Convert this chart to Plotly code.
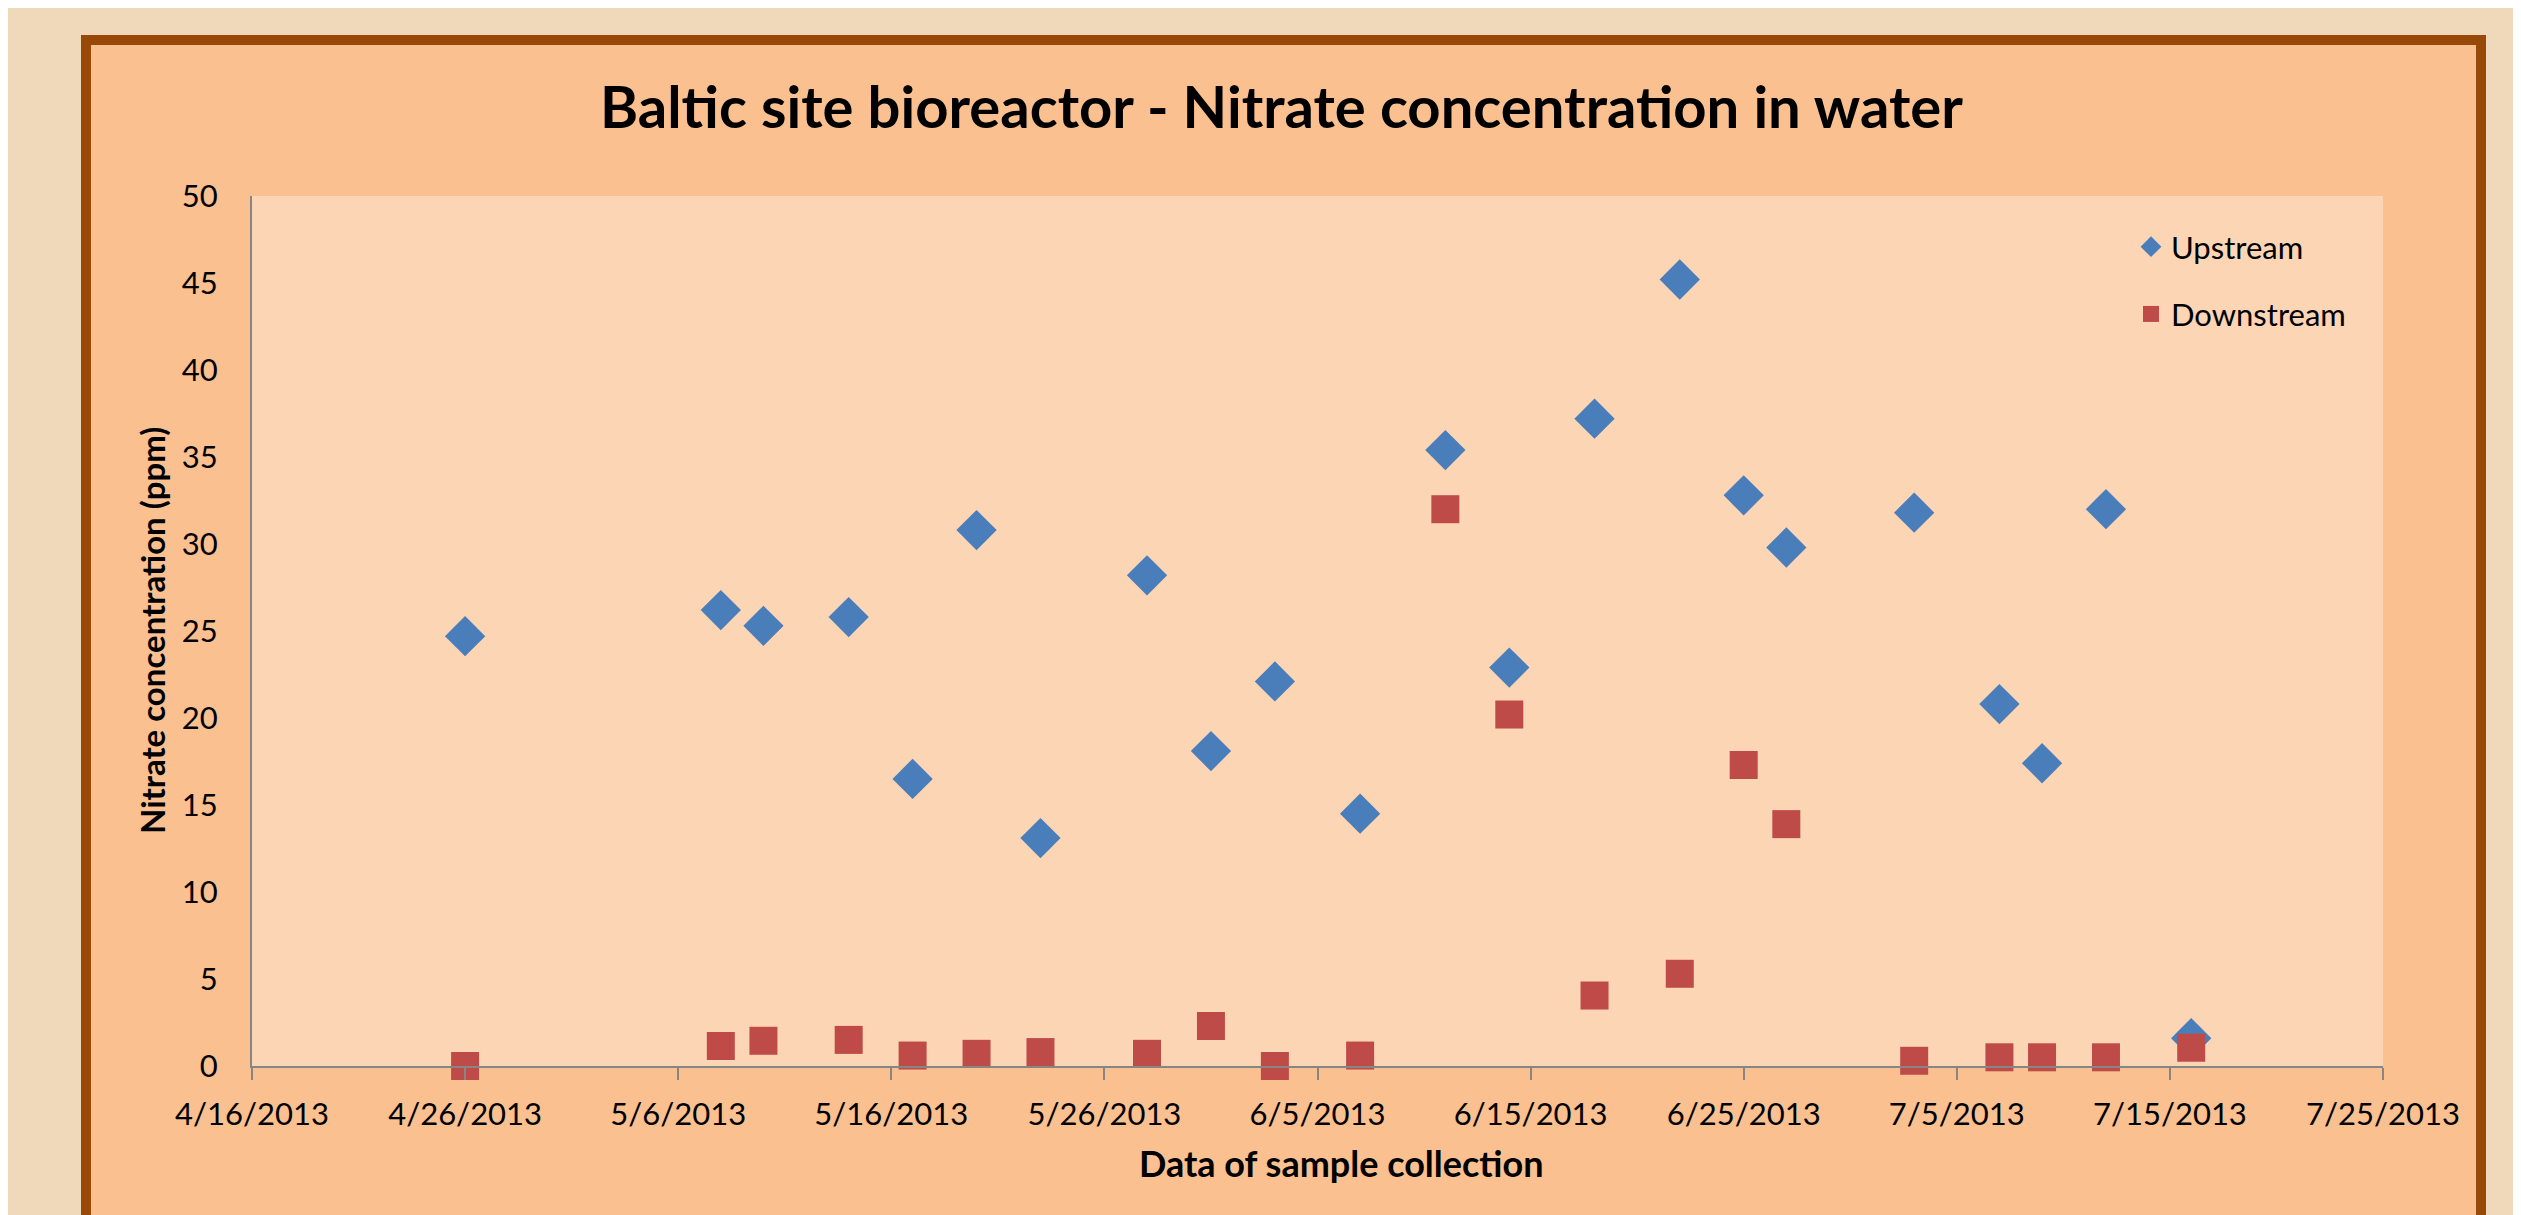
import plotly.graph_objects as go

# ---- data ----
dates = ["2013-04-26", "2013-05-08", "2013-05-10", "2013-05-14", "2013-05-17",
         "2013-05-20", "2013-05-23", "2013-05-28", "2013-05-31", "2013-06-03",
         "2013-06-07", "2013-06-11", "2013-06-14", "2013-06-18", "2013-06-22",
         "2013-06-25", "2013-06-27", "2013-07-03", "2013-07-07", "2013-07-09",
         "2013-07-12", "2013-07-16"]
upstream = [24.7, 26.2, 25.3, 25.8, 16.5, 30.8, 13.1, 28.2, 18.1, 22.1,
            14.5, 35.4, 22.9, 37.2, 45.2, 32.8, 29.8, 31.8, 20.8, 17.4,
            32.0, 1.6]
downstream = [0.0, 1.15, 1.45, 1.5, 0.6, 0.7, 0.8, 0.7, 2.3, 0.0,
              0.6, 32.0, 20.2, 4.05, 5.3, 17.3, 13.9, 0.3, 0.5, 0.5,
              0.5, 1.05]
tick_dates = ["2013-04-16", "2013-04-26", "2013-05-06", "2013-05-16", "2013-05-26",
              "2013-06-05", "2013-06-15", "2013-06-25", "2013-07-05", "2013-07-15",
              "2013-07-25"]
tick_labels = ["4/16/2013", "4/26/2013", "5/6/2013", "5/16/2013", "5/26/2013",
               "6/5/2013", "6/15/2013", "6/25/2013", "7/5/2013", "7/15/2013",
               "7/25/2013"]
y_ticks = [0, 5, 10, 15, 20, 25, 30, 35, 40, 45, 50]

# ---- layout geometry (page pixel coordinates; page body has an 8px margin) ----
PAGE_W, PAGE_H = 2521, 1215
OFF = 8
W, H = PAGE_W - OFF, PAGE_H - OFF
PL, PR, PT, PB = 252, 2383, 196, 1066          # plot area in page coords
L, R, T, B = PL - OFF, W - (PR - OFF), PT - OFF, H - (PB - OFF)
pw, ph = PR - PL, PB - PT

def px(x):
    return (x - PL) / pw

def py(y):
    return (PB - y) / ph

FONT = "Lato"

fig = go.Figure()
fig.add_trace(go.Scatter(
    x=dates, y=upstream, mode="markers", name="Upstream", legendgroup="u",
    marker=dict(symbol="diamond", size=31, color="#4A7EBB"),
    cliponaxis=False))
fig.add_trace(go.Scatter(
    x=dates, y=downstream, mode="markers", name="Downstream", legendgroup="d",
    marker=dict(symbol="square", size=28, color="#BE4B48"),
    cliponaxis=False))

shapes = [
    # chart frame
    dict(type="rect", xref="paper", yref="paper", layer="below",
         x0=px(86), x1=px(2481), y0=py(1260), y1=py(40),
         fillcolor="#FAC090", line=dict(color="#984807", width=10)),
    # plot area
    dict(type="rect", xref="paper", yref="paper", layer="below",
         x0=0, x1=1, y0=0, y1=1, fillcolor="#FCD5B5", line=dict(width=0)),
]

annotations = [
    dict(text="<b>Baltic site bioreactor - Nitrate concentration in water</b>",
         xref="paper", yref="paper", x=px(1281), y=py(105), showarrow=False,
         xanchor="center", yanchor="middle",
         font=dict(family=FONT, size=58, color="#000000")),
    dict(text="<b>Data of sample collection</b>",
         xref="paper", yref="paper", x=px(1341), y=py(1163), showarrow=False,
         xanchor="center", yanchor="middle",
         font=dict(family=FONT, size=36, color="#000000")),
    dict(text="<b>Nitrate concentration (ppm)</b>", textangle=-90,
         xref="paper", yref="paper", x=px(152), y=py(631), showarrow=False,
         xanchor="center", yanchor="middle",
         font=dict(family=FONT, size=33, color="#000000")),
]

fig.update_layout(
    width=W, height=H,
    margin=dict(l=L, r=R, t=T, b=B, pad=0),
    paper_bgcolor="#F0D8BA",
    plot_bgcolor="rgba(0,0,0,0)",
    shapes=shapes,
    annotations=annotations,
    showlegend=True,
    legend=dict(x=px(2131), y=py(220), xanchor="left", yanchor="top",
                bgcolor="rgba(0,0,0,0)", tracegroupgap=24,
                font=dict(family=FONT, size=31, color="#000000"),
                itemsizing="trace"),
    font=dict(family=FONT, color="#000000"),
)

fig.update_xaxes(
    type="date", range=["2013-04-16", "2013-07-25"],
    tickvals=tick_dates, ticktext=tick_labels,
    showgrid=False, zeroline=False,
    showline=True, linecolor="#868686", linewidth=2,
    ticks="outside", ticklen=12, tickwidth=2, tickcolor="#868686",
    ticklabelstandoff=8,
    tickfont=dict(family=FONT, size=31, color="#000000"),
)
fig.update_yaxes(
    range=[0, 50], tickvals=y_ticks,
    showgrid=False, zeroline=False,
    showline=True, linecolor="#868686", linewidth=2,
    ticks="outside", ticklen=26, tickcolor="rgba(0,0,0,0)",
    tickfont=dict(family=FONT, size=31, color="#000000"),
)

fig.write_html("out.html")
